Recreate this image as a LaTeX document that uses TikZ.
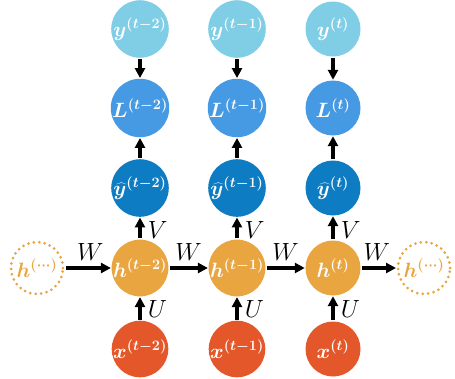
\documentclass[tikz,border=0pt]{standalone}
\usepackage{bm}
\usetikzlibrary{arrows.meta}
\definecolor{cy}{HTML}{80CDE6}
\definecolor{cl}{HTML}{4699E3}
\definecolor{cyh}{HTML}{0E7CC2}
\definecolor{ch}{HTML}{E9A53F}
\definecolor{cx}{HTML}{E4572A}
\begin{document}
\begin{tikzpicture}[x=1pt,y=-1pt,
  cell/.style={circle,minimum size=55pt,inner sep=0pt,text=white,font=\fontsize{22}{26}\selectfont},
  ghost/.style={circle,minimum size=52pt,inner sep=0pt,draw=ch,line width=3pt,dash pattern=on 0pt off 5.5pt,line cap=round,text=ch,font=\fontsize{21}{25}\selectfont},
  arr/.style={line width=3.2pt,-{Triangle[length=10pt,width=10pt]},shorten <=1pt,shorten >=0.5pt},
  lab/.style={font=\fontsize{25}{28}\selectfont}]
\useasboundingbox (0,0) rectangle (455,378);
\foreach \c/\X/\t in {a/140/t-2, b/237/t-1, c/333/t}{
  \node[cell,fill=cy] (y\c) at (\X,29) {$\bm{y^{(\t)}}$};
  \node[cell,fill=cl] (L\c) at (\X,108) {$\bm{L^{(\t)}}$};
  \node[cell,fill=cyh] (p\c) at (\X,188) {$\bm{\widehat{y}^{(\t)}}$};
  \node[cell,fill=ch] (h\c) at (\X,268) {$\bm{h^{(\t)}}$};
  \node[cell,fill=cx] (x\c) at (\X,349) {$\bm{x^{(\t)}}$};
  \draw[arr] (y\c) -- (L\c);
  \draw[arr] (p\c) -- (L\c);
  \draw[arr] (h\c) -- node[lab,right,pos=0.4,xshift=3pt]{$V$} (p\c);
  \draw[arr] (x\c) -- node[lab,right,pos=0.5,xshift=3pt]{$U$} (h\c);
}
\node[ghost] (h0) at (37,268) {$\bm{h^{(\cdots)}}$};
\node[ghost] (h9) at (424,268) {$\bm{h^{(\cdots)}}$};
\draw[arr] (h0) -- node[lab,above,pos=0.55,yshift=3pt]{$W$} (ha);
\draw[arr] (ha) -- node[lab,above,pos=0.5,yshift=3pt]{$W$} (hb);
\draw[arr] (hb) -- node[lab,above,pos=0.5,yshift=3pt]{$W$} (hc);
\draw[arr] (hc) -- node[lab,above,pos=0.45,yshift=3pt]{$W$} (h9);
\end{tikzpicture}
\end{document}
